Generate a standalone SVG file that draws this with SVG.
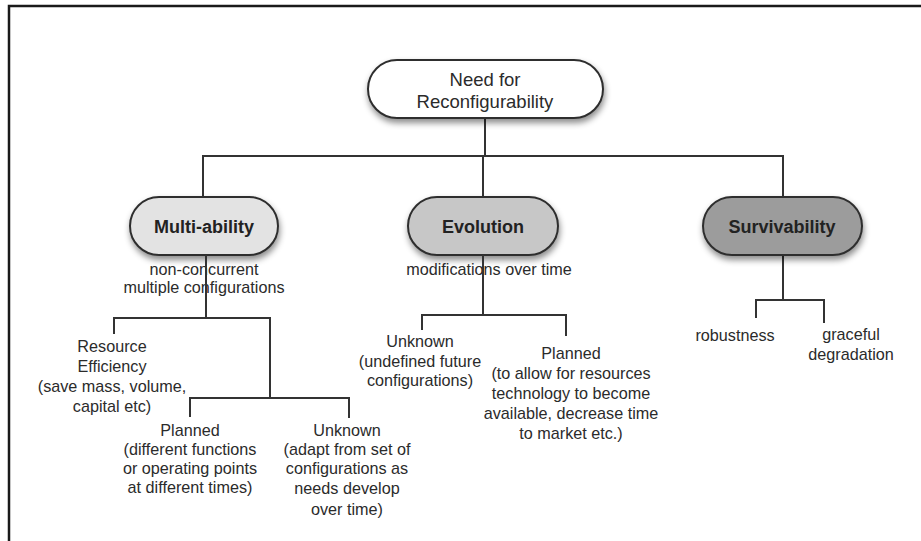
<svg xmlns="http://www.w3.org/2000/svg" width="921" height="541" viewBox="0 0 921 541">
  <style>
    .frame { stroke: #1a1a1a; stroke-width: 2.5; fill: none; }
    .pill { stroke: #2e2e2e; stroke-width: 2; filter: url(#shadow); }
    .wire { stroke: #333; stroke-width: 2; fill: none; }
    text { font-family: "Liberation Sans", Arial, Helvetica, sans-serif; fill: #2b2b2b; text-anchor: middle; }
    .title { font-size: 18.5px; }
    .head { font-size: 18px; font-weight: bold; fill: #222; }
    .note { font-size: 16.2px; }
  </style>
  <defs>
    <filter id="shadow" x="-20%" y="-30%" width="140%" height="180%">
      <feDropShadow dx="1" dy="4" stdDeviation="3" flood-color="#000" flood-opacity="0.45"/>
    </filter>
  </defs>

  <rect width="921" height="541" fill="#fff"/>
  <path class="frame" d="M9,541 V6 H921"/>

  <!-- connectors -->
  <g id="connectors">
    <path class="wire" d="M485,118 V157"/>
    <path class="wire" d="M203,197 V156 H783 V197"/>
    <path class="wire" d="M483,157 V197"/>
    <!-- multi-ability branch -->
    <path class="wire" d="M206,255 V318"/>
    <path class="wire" d="M114,334 V318 H270 V398"/>
    <path class="wire" d="M190,417 V398 H349 V418"/>
    <!-- evolution branch -->
    <path class="wire" d="M483,255 V315"/>
    <path class="wire" d="M422,330 V315 H566 V336"/>
    <!-- survivability branch -->
    <path class="wire" d="M783,255 V300"/>
    <path class="wire" d="M756,318 V300 H824 V323"/>
  </g>

  <g id="root">
    <rect class="pill" x="368" y="60" width="235" height="58" rx="29" fill="#fff"/>
    <text class="title" x="485" y="86">Need for</text>
    <text class="title" x="485" y="108">Reconfigurability</text>
  </g>

  <g id="multi-ability">
    <rect class="pill" x="130" y="197" width="148" height="58" rx="29" fill="#e3e3e3"/>
    <text class="head" x="204" y="233">Multi-ability</text>
  </g>

  <g id="evolution">
    <rect class="pill" x="408" y="197" width="150" height="58" rx="29" fill="#c7c7c7"/>
    <text class="head" x="483" y="233">Evolution</text>
  </g>

  <g id="survivability">
    <rect class="pill" x="703" y="197" width="159" height="58" rx="29" fill="#9c9c9c"/>
    <text class="head" x="782" y="233">Survivability</text>
  </g>

  <g id="multi-ability-note">
    <text class="note" x="204" y="275">non-concurrent</text>
    <text class="note" x="204" y="293">multiple configurations</text>
  </g>

  <g id="evolution-note">
    <text class="note" x="489" y="275">modifications over time</text>
  </g>

  <!-- connector runs over the captions -->
  <g id="connectors-over">
    <path class="wire" d="M206,255 V300"/>
    <path class="wire" d="M483,255 V300"/>
  </g>

  <g id="resource-efficiency">
    <text class="note" x="112" y="352">Resource</text>
    <text class="note" x="112" y="372">Efficiency</text>
    <text class="note" x="112" y="392">(save mass, volume,</text>
    <text class="note" x="112" y="412">capital etc)</text>
  </g>

  <g id="multi-planned">
    <text class="note" x="190" y="436">Planned</text>
    <text class="note" x="190" y="455">(different functions</text>
    <text class="note" x="190" y="474">or operating points</text>
    <text class="note" x="190" y="493">at different times)</text>
  </g>

  <g id="multi-unknown">
    <text class="note" x="347" y="436">Unknown</text>
    <text class="note" x="347" y="455">(adapt from set of</text>
    <text class="note" x="347" y="474">configurations as</text>
    <text class="note" x="347" y="494">needs develop</text>
    <text class="note" x="347" y="515">over time)</text>
  </g>

  <g id="evolution-unknown">
    <text class="note" x="420" y="347">Unknown</text>
    <text class="note" x="420" y="367">(undefined future</text>
    <text class="note" x="420" y="386">configurations)</text>
  </g>

  <g id="evolution-planned">
    <text class="note" x="571" y="359">Planned</text>
    <text class="note" x="571" y="379">(to allow for resources</text>
    <text class="note" x="571" y="399">technology to become</text>
    <text class="note" x="571" y="419">available, decrease time</text>
    <text class="note" x="571" y="439">to market etc.)</text>
  </g>

  <g id="robustness">
    <text class="note" x="735" y="341">robustness</text>
  </g>

  <g id="graceful-degradation">
    <text class="note" x="851" y="340">graceful</text>
    <text class="note" x="851" y="360">degradation</text>
  </g>
</svg>
